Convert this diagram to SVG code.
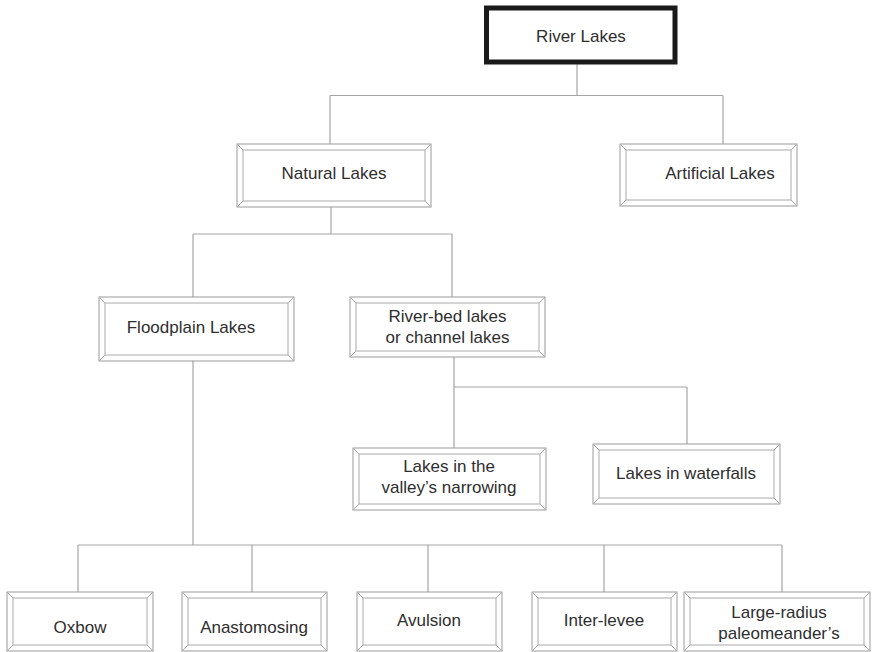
<svg xmlns="http://www.w3.org/2000/svg" width="872" height="652" viewBox="0 0 872 652">
<style>
.o{fill:#fff;stroke:#999;stroke-width:1}
.i{fill:#fff;stroke:#aaa;stroke-width:1}
.d{fill:none;stroke:#aaa;stroke-width:1}
.c{fill:none;stroke:#a6a6a6;stroke-width:1.2}
text{font-family:"Liberation Sans",Arial,sans-serif;font-size:17px;fill:#2e2e2e;text-anchor:middle}
</style>
<rect width="872" height="652" fill="#fff"/>
<g id="connectors">
<path class="c" d="M577 64V95.5M330 95.5H723M330 95.5V144M723 95.5V144M331 207V234M193 234H452M193 234V297M452 234V297M454 357V387M454 387H687M454 387V448M687 387V444M193 361V545M78 545H782M78 545V592M252 545V592M428 545V592M604 545V592M782 545V592"/>
</g>
<g id="river-lakes">
<rect x="486.5" y="8" width="188.5" height="54" fill="#fff" stroke="#1a1a1a" stroke-width="5"/>
<text x="581" y="42">River Lakes</text>
</g>
<g id="natural-lakes">
<rect class="o" x="237" y="144" width="194" height="63"/><rect class="i" x="243" y="150" width="182" height="51"/>
<path class="d" d="M237 144L243 150M431 144L425 150M237 207L243 201M431 207L425 201"/>
<text x="334" y="179">Natural Lakes</text>
</g>
<g id="artificial-lakes">
<rect class="o" x="620" y="144" width="177" height="62"/><rect class="i" x="626" y="150" width="165" height="50"/>
<path class="d" d="M620 144L626 150M797 144L791 150M620 206L626 200M797 206L791 200"/>
<text x="720" y="179">Artificial Lakes</text>
</g>
<g id="floodplain-lakes">
<rect class="o" x="99" y="297" width="195" height="64"/><rect class="i" x="105" y="303" width="183" height="52"/>
<path class="d" d="M99 297L105 303M294 297L288 303M99 361L105 355M294 361L288 355"/>
<text x="191" y="333">Floodplain Lakes</text>
</g>
<g id="river-bed-lakes">
<rect class="o" x="350" y="297" width="195" height="60"/><rect class="i" x="356" y="303" width="183" height="48"/>
<path class="d" d="M350 297L356 303M545 297L539 303M350 357L356 351M545 357L539 351"/>
<text x="447.5" y="322">River-bed lakes</text><text x="447.5" y="343">or channel lakes</text>
</g>
<g id="valley-narrowing">
<rect class="o" x="353" y="448" width="193" height="62"/><rect class="i" x="359" y="454" width="181" height="50"/>
<path class="d" d="M353 448L359 454M546 448L540 454M353 510L359 504M546 510L540 504"/>
<text x="449" y="472">Lakes in the</text><text x="449" y="493">valley’s narrowing</text>
</g>
<g id="waterfalls">
<rect class="o" x="593" y="444" width="187" height="60"/><rect class="i" x="599" y="450" width="175" height="48"/>
<path class="d" d="M593 444L599 450M780 444L774 450M593 504L599 498M780 504L774 498"/>
<text x="686" y="479">Lakes in waterfalls</text>
</g>
<g id="oxbow">
<rect class="o" x="7" y="592" width="146" height="59"/><rect class="i" x="13" y="598" width="134" height="47"/>
<path class="d" d="M7 592L13 598M153 592L147 598M7 651L13 645M153 651L147 645"/>
<text x="80" y="633">Oxbow</text>
</g>
<g id="anastomosing">
<rect class="o" x="182" y="592" width="145" height="59"/><rect class="i" x="188" y="598" width="133" height="47"/>
<path class="d" d="M182 592L188 598M327 592L321 598M182 651L188 645M327 651L321 645"/>
<text x="254" y="633">Anastomosing</text>
</g>
<g id="avulsion">
<rect class="o" x="357" y="592" width="145" height="59"/><rect class="i" x="363" y="598" width="133" height="47"/>
<path class="d" d="M357 592L363 598M502 592L496 598M357 651L363 645M502 651L496 645"/>
<text x="429" y="626">Avulsion</text>
</g>
<g id="inter-levee">
<rect class="o" x="532" y="592" width="145" height="59"/><rect class="i" x="538" y="598" width="133" height="47"/>
<path class="d" d="M532 592L538 598M677 592L671 598M532 651L538 645M677 651L671 645"/>
<text x="604" y="626">Inter-levee</text>
</g>
<g id="large-radius">
<rect class="o" x="684" y="592" width="186" height="59"/><rect class="i" x="690" y="598" width="174" height="47"/>
<path class="d" d="M684 592L690 598M870 592L864 598M684 651L690 645M870 651L864 645"/>
<text x="779" y="618">Large-radius</text><text x="779" y="639">paleomeander’s</text>
</g>
</svg>
